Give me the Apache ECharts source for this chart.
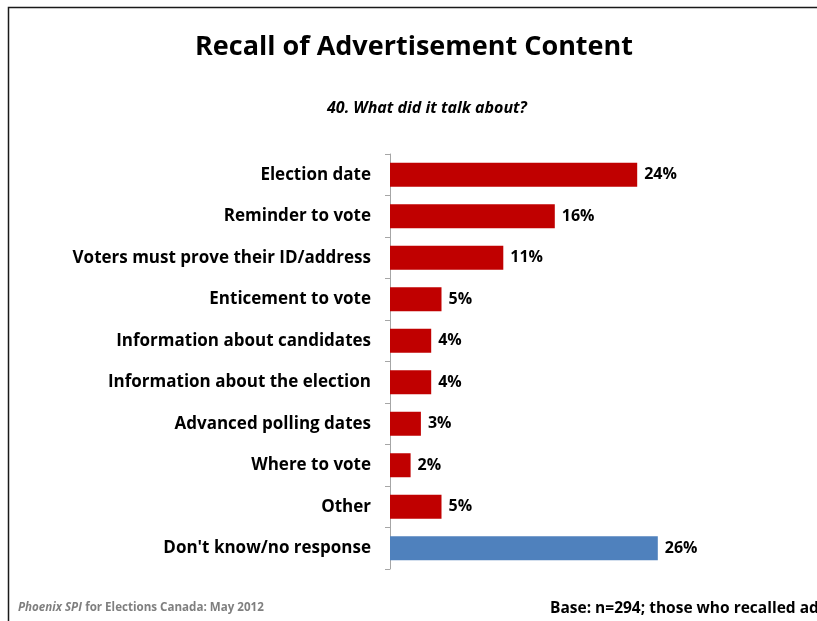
<!DOCTYPE html>
<html>
<head>
<meta charset="utf-8">
<script src="https://cdn.jsdelivr.net/npm/echarts@6/dist/echarts.min.js"></script>
<style>
  html, body { margin: 0; padding: 0; background: #fff; }
  #chart { width: 817px; height: 621px; }
</style>
</head>
<body>
<div id="chart"></div>
<script>
// Survey question 40: what the recalled advertisement talked about (% of respondents)
const categories = [
  'Election date',
  'Reminder to vote',
  'Voters must prove their ID/address',
  'Enticement to vote',
  'Information about candidates',
  'Information about the election',
  'Advanced polling dates',
  'Where to vote',
  'Other',
  "Don't know/no response"
];
const values = [24, 16, 11, 5, 4, 4, 3, 2, 5, 26];
const barColors = ['#C00000', '#C00000', '#C00000', '#C00000', '#C00000',
                   '#C00000', '#C00000', '#C00000', '#C00000', '#4F81BD'];

const FONT = '"Open Sans", "Noto Sans", sans-serif';

const chart = echarts.init(document.getElementById('chart'), null, { renderer: 'canvas' });

chart.setOption({
  animation: false,
  backgroundColor: '#fff',
  title: [
    {
      text: 'Recall of Advertisement Content',
      left: 190,
      top: 29,
      textStyle: { fontFamily: FONT, fontWeight: 'bold', fontSize: 27, color: '#000' }
    },
    {
      text: '40. What did it talk about?',
      left: 322,
      top: 95,
      textStyle: { fontFamily: FONT, fontWeight: 'bold', fontStyle: 'italic', fontSize: 16, color: '#000' }
    }
  ],
  grid: { left: 390, top: 154, width: 309, height: 415, containLabel: false },
  xAxis: {
    type: 'value',
    min: 0,
    max: 30,
    show: false
  },
  yAxis: {
    type: 'category',
    inverse: true,
    data: categories,
    boundaryGap: true,
    axisLine: { show: true, lineStyle: { color: '#A6A6A6', width: 1 } },
    axisTick: { show: true, length: 5, lineStyle: { color: '#A6A6A6' } },
    axisLabel: {
      margin: 19,
      fontFamily: FONT,
      fontWeight: 'bold',
      fontSize: 17,
      color: '#000'
    },
    splitLine: { show: false }
  },
  series: [{
    type: 'bar',
    barWidth: 24,
    data: values.map((v, i) => ({ value: v, itemStyle: { color: barColors[i] } })),
    label: {
      show: true,
      position: 'right',
      distance: 7,
      formatter: p => p.value + '%',
      fontFamily: FONT,
      fontWeight: 'bold',
      fontSize: 16,
      color: '#000'
    }
  }],
  graphic: [
    {
      type: 'polyline',
      shape: { points: [[8.5, 640], [8.5, 7.5], [830, 7.5]] },
      style: { stroke: '#1a1a1a', lineWidth: 1.5, fill: null }
    },
    {
      type: 'text',
      left: 18,
      top: 602,
      style: {
        text: '{i|Phoenix SPI} {n|for Elections Canada: May 2012}',
        rich: {
          i: { fontFamily: FONT, fontSize: 11.6, fontWeight: 'bold', fontStyle: 'italic', fill: '#7F7F7F' },
          n: { fontFamily: FONT, fontSize: 11.6, fontWeight: 'bold', fill: '#7F7F7F' }
        }
      }
    },
    {
      type: 'text',
      left: 550,
      top: 601,
      style: {
        text: 'Base: n=294; those who recalled ad',
        fontFamily: FONT,
        fontSize: 15.5,
        fontWeight: 'bold',
        fill: '#000'
      }
    }
  ]
});
</script>
</body>
</html>
